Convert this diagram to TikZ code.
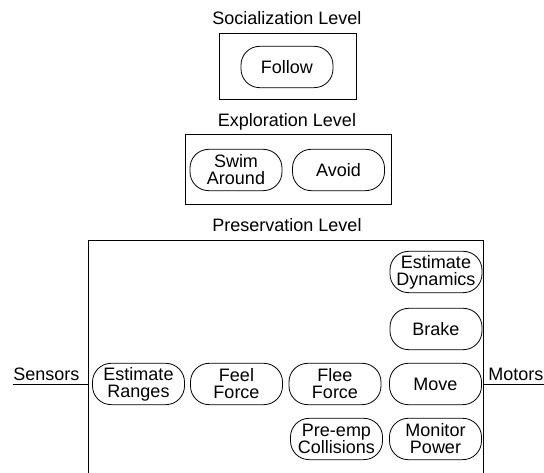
\documentclass[tikz,border=0pt]{standalone}
\usepackage{fontspec}
\setmainfont{Liberation Sans}
\begin{document}
\begin{tikzpicture}[x=0.75pt,y=-0.75pt,
  behav/.style={draw, line width=0.6pt, rounded corners=14pt, minimum width=69pt,
    minimum height=31pt, inner sep=0pt, align=center,
    font=\fontsize{13.5}{12.75}\selectfont},
  levelbox/.style={draw, line width=0.6pt},
  lbl/.style={font=\fontsize{13.5}{14}\selectfont, inner sep=0pt},
  wire/.style={draw, line width=0.6pt}]
\useasboundingbox (0,0) rectangle (544,473);

% Socialization level
\node[lbl] (soclbl) at (287,18) {Socialization Level};
\draw[levelbox] (219,33) rectangle (356,99);
\node[behav] (follow) at (287,67) {Follow};

% Exploration level
\node[lbl] (explbl) at (287,122) {Exploration Level};
\draw[levelbox] (185,134) rectangle (391,204);
\node[behav] (swim) at (236,170) {Swim\\Around};
\node[behav] (avoid) at (338.5,170) {Avoid};

% Preservation level (open at the bottom)
\node[lbl] (prelbl) at (287,225) {Preservation Level};
\draw[levelbox] (88,473) -- (88,240) -- (483,240) -- (483,473);

\node[behav] (estdyn) at (436,272) {Estimate\\Dynamics};
\node[behav] (brake)  at (436,329) {Brake};
\node[behav] (estrng) at (138.5,384) {Estimate\\Ranges};
\node[behav] (feel)   at (236.5,384) {Feel\\Force};
\node[behav] (flee)   at (335,384) {Flee\\Force};
\node[behav] (move)   at (435.5,384) {Move};
\node[behav] (preemp) at (336.5,439) {Pre-emp\\Collisions};
\node[behav] (monpow) at (435.5,439) {Monitor\\Power};

% Sensor input and motor output
\node[lbl, anchor=base west] (sensors) at (13,381) {Sensors};
\coordinate (sin) at (88,384);
\draw[wire] (sensors.west |- sin) -- (sin);

\node[lbl, anchor=base west] (motors) at (488,381) {Motors};
\coordinate (mout) at (483,384);
\draw[wire] (mout) -- (motors.east |- mout);
\end{tikzpicture}
\end{document}
